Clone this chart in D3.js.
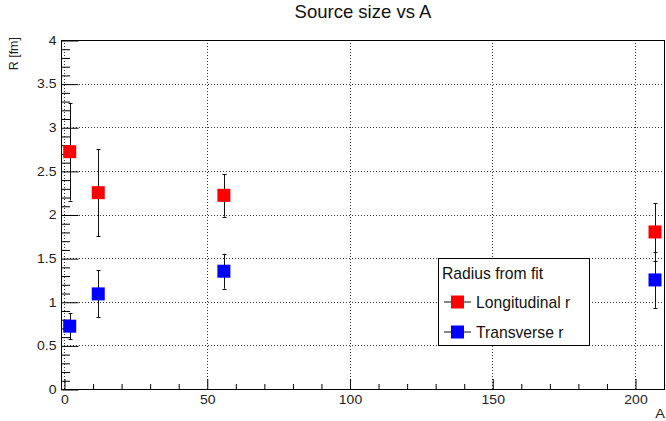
<!DOCTYPE html>
<html>
<head>
<meta charset="utf-8">
<script src="https://cdn.jsdelivr.net/npm/d3@7"></script>
<style>
  html, body { margin: 0; padding: 0; background: #fff; }
  svg { display: block; font-family: "Liberation Sans", Arial, Helvetica, sans-serif; }
</style>
</head>
<body>
<svg id="chart" width="666" height="421"></svg>
<script>
// Mass number of each nucleus
const massNumber = [2, 12, 56, 207];
// Longitudinal radius and its uncertainty [fm]
const longR    = [2.72, 2.25, 2.22, 1.80];
const longErr  = [0.56, 0.50, 0.245, 0.33];
// Transverse radius and its uncertainty [fm]
const transR   = [0.72, 1.09, 1.35, 1.25];
const transErr = [0.15, 0.27, 0.20, 0.32];

const xTicks = [0, 50, 100, 150, 200];
const yTicks = [0, 0.5, 1, 1.5, 2, 2.5, 3, 3.5, 4];
const titleText = "Source size vs A";
const xTitle = "A";
const yTitle = "R [fm]";
const legendHeader = "Radius from fit";
const seriesNames = ["Longitudinal r", "Transverse r"];
const seriesColors = ["#ff0000", "#0000ff"];

const frame = { left: 61, right: 665, top: 40, bottom: 389 };
const svg = d3.select("#chart");

const x = d3.scaleLinear().domain([-1.05, 210.5]).range([frame.left, frame.right]);
const y = d3.scaleLinear().domain([0, 4]).range([frame.bottom, frame.top]);

// dotted grid
const grid = svg.append("g").attr("stroke", "#333").attr("stroke-width", 1)
  .attr("stroke-dasharray", "1,2");
grid.selectAll("line.vx").data(xTicks).join("line")
  .attr("x1", d => Math.round(x(d)) + 0.5).attr("x2", d => Math.round(x(d)) + 0.5)
  .attr("y1", frame.top).attr("y2", frame.bottom);
grid.selectAll("line.hy").data(yTicks.filter(d => d > 0 && d < 4)).join("line")
  .attr("y1", d => Math.round(y(d)) + 0.5).attr("y2", d => Math.round(y(d)) + 0.5)
  .attr("x1", frame.left).attr("x2", frame.right);

// frame
svg.append("rect")
  .attr("x", frame.left + 0.5).attr("y", frame.top + 0.5)
  .attr("width", frame.right - frame.left - 1).attr("height", frame.bottom - frame.top)
  .attr("fill", "none").attr("stroke", "#000").attr("stroke-width", 1);

// label glyphs are slightly squashed vertically
const labelSize = 14, squash = 0.86;

// x axis: major + minor ticks drawn inward
const xMinor = d3.range(0, 211, 10).filter(d => d % 50 !== 0);
const xAxis = d3.axisBottom(x).tickValues(xTicks).tickSize(-10.5).tickPadding(6)
  .tickFormat(d3.format("d"));
const gx = svg.append("g").attr("transform", `translate(0.5,${frame.bottom + 0.5})`).call(xAxis);
const gxm = svg.append("g").attr("transform", `translate(0.5,${frame.bottom + 0.5})`)
  .call(d3.axisBottom(x).tickValues(xMinor).tickSize(-5.5).tickFormat(""));

// y axis
const yMinor = d3.range(0, 4.001, 0.1).map(v => +v.toFixed(1)).filter(v => Math.abs(v * 2 - Math.round(v * 2)) > 1e-6);
const yAxis = d3.axisLeft(y).tickValues(yTicks).tickSize(-17).tickPadding(5)
  .tickFormat(d => String(d));
const gy = svg.append("g").attr("transform", `translate(${frame.left + 0.5},0.5)`).call(yAxis);
const gym = svg.append("g").attr("transform", `translate(${frame.left + 0.5},0.5)`)
  .call(d3.axisLeft(y).tickValues(yMinor).tickSize(-8.5).tickFormat(""));

[gx, gxm, gy, gym].forEach(g => {
  g.select(".domain").remove();
  g.selectAll("line").attr("stroke", "#000");
  g.selectAll("text").attr("font-size", labelSize).attr("fill", "#222")
    .attr("font-family", "Liberation Sans, Arial, sans-serif");
});
gx.selectAll(".tick text").attr("y", 6 / squash).attr("transform", `scale(1,${squash})`);
gy.selectAll(".tick text").attr("transform", `scale(1,${squash})`);

// axis titles
svg.append("text").attr("transform", `translate(665,418) scale(1,${squash})`).attr("text-anchor", "end")
  .attr("font-size", 14.5).attr("fill", "#222").text(xTitle);
svg.append("text").attr("transform", "translate(18,37) rotate(-90)")
  .attr("text-anchor", "end").attr("font-size", 12.5).attr("fill", "#222").text(yTitle);

// title
svg.append("text").attr("x", (frame.left + frame.right) / 2).attr("y", 17.5)
  .attr("text-anchor", "middle").attr("font-size", 18.5).attr("fill", "#111").text(titleText);

// series with vertical error bars
const series = [
  { vals: longR, errs: longErr, color: seriesColors[0] },
  { vals: transR, errs: transErr, color: seriesColors[1] }
];
const ms = 13;
series.forEach(s => {
  const pts = massNumber.map((a, i) => ({ a, v: s.vals[i], e: s.errs[i] }));
  const g = svg.append("g");
  const eb = g.append("g").attr("stroke", "#111").attr("stroke-width", 1);
  eb.selectAll("line.bar").data(pts).join("line")
    .attr("x1", d => Math.round(x(d.a)) + 0.5).attr("x2", d => Math.round(x(d.a)) + 0.5)
    .attr("y1", d => y(d.v + d.e)).attr("y2", d => y(d.v - d.e));
  eb.selectAll("line.top").data(pts).join("line")
    .attr("x1", d => Math.round(x(d.a)) - 1.5).attr("x2", d => Math.round(x(d.a)) + 2.5)
    .attr("y1", d => Math.round(y(d.v + d.e)) + 0.5).attr("y2", d => Math.round(y(d.v + d.e)) + 0.5);
  eb.selectAll("line.bot").data(pts).join("line")
    .attr("x1", d => Math.round(x(d.a)) - 1.5).attr("x2", d => Math.round(x(d.a)) + 2.5)
    .attr("y1", d => Math.round(y(d.v - d.e)) + 0.5).attr("y2", d => Math.round(y(d.v - d.e)) + 0.5);
  g.selectAll("rect").data(pts).join("rect")
    .attr("x", d => x(d.a) - ms / 2).attr("y", d => y(d.v) - ms / 2)
    .attr("width", ms).attr("height", ms).attr("fill", s.color);
});

// legend
const lg = svg.append("g");
lg.append("rect").attr("x", 438.5).attr("y", 258.5).attr("width", 151).attr("height", 87)
  .attr("fill", "#fff").attr("stroke", "#000").attr("stroke-width", 1);
lg.append("text").attr("x", 442).attr("y", 278.5).attr("font-size", 15.7).attr("fill", "#111")
  .text(legendHeader);
const rowY = [301.5, 331.5];
seriesNames.forEach((name, i) => {
  lg.append("line").attr("x1", 444).attr("x2", 471).attr("y1", rowY[i] + 0.5).attr("y2", rowY[i] + 0.5)
    .attr("stroke", "#111").attr("stroke-width", 1);
  lg.append("rect").attr("x", 457.5 - ms / 2).attr("y", rowY[i] - ms / 2 + 0.5)
    .attr("width", ms).attr("height", ms).attr("fill", seriesColors[i]);
  lg.append("text").attr("x", 476).attr("y", rowY[i] + 6.5).attr("font-size", 15.7).attr("fill", "#111")
    .text(name);
});
</script>
</body>
</html>
